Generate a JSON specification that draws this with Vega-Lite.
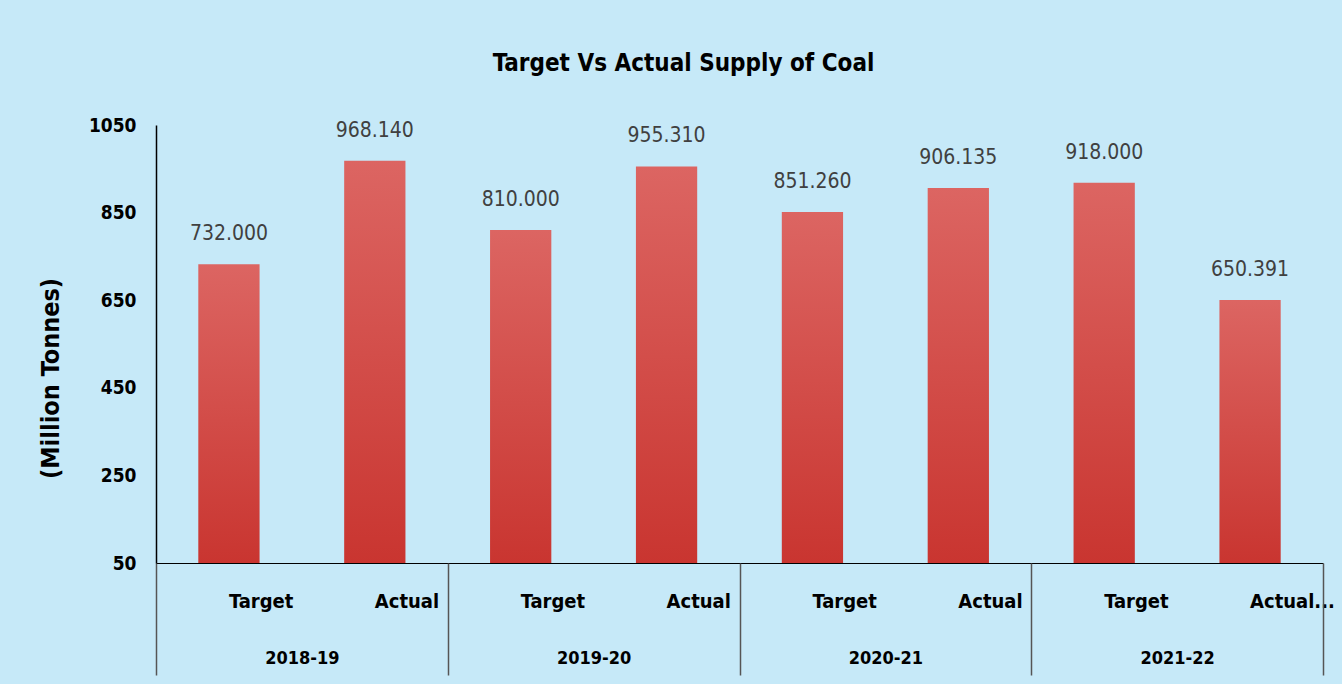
{
  "$schema": "https://vega.github.io/schema/vega-lite/v6.json",
  "autosize": {"type": "none"},
  "padding": {"left": 156, "top": 125, "right": 19, "bottom": 121},
  "width": 1167,
  "height": 438,
  "background": "#c6e9f8",
  "config": {"view": {"stroke": null}, "font": "DejaVu Sans Condensed, Liberation Sans Narrow, Arial Narrow, sans-serif"},
  "title": {
    "text": "Target Vs Actual Supply of Coal",
    "fontSize": 24,
    "fontWeight": "bold",
    "color": "#000000",
    "font": "DejaVu Sans Condensed, Liberation Sans Narrow, Arial Narrow, sans-serif",
    "anchor": "middle",
    "dx": -56,
    "offset": 40
  },
  "data": {
    "values": [
      {"year": "2018-19", "key": "2018-19|Target", "value": 732.000},
      {"year": "2018-19", "key": "2018-19|Actual", "value": 968.140},
      {"year": "2019-20", "key": "2019-20|Target", "value": 810.000},
      {"year": "2019-20", "key": "2019-20|Actual", "value": 955.310},
      {"year": "2020-21", "key": "2020-21|Target", "value": 851.260},
      {"year": "2020-21", "key": "2020-21|Actual", "value": 906.135},
      {"year": "2021-22", "key": "2021-22|Target", "value": 918.000},
      {"year": "2021-22", "key": "2021-22|Actual...", "value": 650.391}
    ]
  },
  "layer": [
    {
      "encoding": {
        "x": {
          "field": "key",
          "type": "nominal",
          "sort": null,
          "scale": {"paddingInner": 0, "paddingOuter": 0},
          "axis": {
            "orient": "bottom",
            "title": null,
            "labelExpr": "split(datum.label, '|')[1]",
            "labelAngle": 0,
            "labelAlign": "left",
            "labelBaseline": "top",
            "labelFontSize": 20,
            "labelFontWeight": "bold",
            "labelColor": "#000000",
            "labelPadding": 28,
            "ticks": false,
            "domain": true,
            "domainColor": "#000000",
            "domainWidth": 1,
            "labelFont": "DejaVu Sans Condensed, Liberation Sans Narrow, Arial Narrow, sans-serif"
          }
        },
        "y": {
          "field": "value",
          "type": "quantitative",
          "scale": {"domain": [50, 1050], "nice": false, "zero": false},
          "axis": {
            "values": [50, 250, 450, 650, 850, 1050],
            "format": "d",
            "title": "(Million Tonnes)",
            "titleFontSize": 25,
            "titleFontWeight": "bold",
            "titleColor": "#000000",
            "titleX": -93,
            "titleY": 253,
            "titleFont": "DejaVu Sans Condensed, Liberation Sans Narrow, Arial Narrow, sans-serif",
            "labelFontSize": 19,
            "labelFontWeight": "bold",
            "labelColor": "#000000",
            "labelPadding": 20,
            "labelFont": "DejaVu Sans Condensed, Liberation Sans Narrow, Arial Narrow, sans-serif",
            "ticks": false,
            "grid": false,
            "domain": true,
            "domainColor": "#000000",
            "domainWidth": 1.5
          }
        }
      },
      "layer": [
        {
          "mark": {
            "type": "bar",
            "width": {"band": 0.42},
            "color": {
              "gradient": "linear",
              "x1": 0, "y1": 0, "x2": 0, "y2": 1,
              "stops": [
                {"offset": 0, "color": "#dc6562"},
                {"offset": 1, "color": "#c93530"}
              ]
            }
          },
          "encoding": {"y2": {"datum": 50}}
        },
        {
          "mark": {
            "type": "text",
            "baseline": "bottom",
            "dy": -20,
            "fontSize": 21,
            "color": "#404040",
            "font": "DejaVu Sans Condensed, Liberation Sans Narrow, Arial Narrow, sans-serif"
          },
          "encoding": {
            "text": {"field": "value", "type": "quantitative", "format": ".3f"}
          }
        }
      ]
    },
    {
      "mark": {"type": "tick", "opacity": 0},
      "encoding": {
        "x": {
          "field": "year",
          "type": "nominal",
          "sort": null,
          "scale": {"paddingInner": 0, "paddingOuter": 0},
          "axis": {
            "orient": "bottom",
            "title": null,
            "labelAngle": 0,
            "labelAlign": "center",
            "labelBaseline": "top",
            "labelFontSize": 18,
            "labelFontWeight": "bold",
            "labelColor": "#000000",
            "labelFont": "DejaVu Sans Condensed, Liberation Sans Narrow, Arial Narrow, sans-serif",
            "tickBand": "extent",
            "ticks": true,
            "tickSize": 112,
            "tickColor": "#555555",
            "tickWidth": 1.5,
            "labelPadding": -26,
            "domain": false
          }
        },
        "y": {"field": "value", "type": "quantitative"}
      }
    }
  ],
  "resolve": {"scale": {"x": "independent"}, "axis": {"x": "independent"}}
}
